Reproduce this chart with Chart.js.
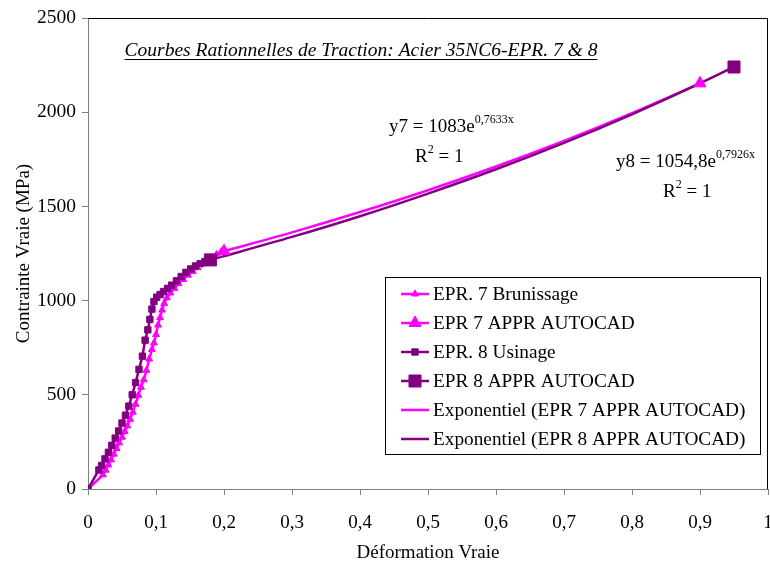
<!DOCTYPE html>
<html>
<head>
<meta charset="utf-8">
<script src="https://cdn.jsdelivr.net/npm/chart.js@4/dist/chart.umd.min.js"></script>
<style>
  html, body { margin: 0; padding: 0; background: #fff; }
  #wrap { width: 770px; height: 566px; }
</style>
</head>
<body>
<div id="wrap"><canvas id="c" width="770" height="566"></canvas></div>
<script>
// EPR. 7 Brunissage (true strain, true stress)
const eps7 = [0, 0.022, 0.026, 0.030, 0.034, 0.038, 0.042, 0.046, 0.050, 0.054, 0.058, 0.062, 0.066, 0.070,
  0.074, 0.078, 0.082, 0.086, 0.090, 0.094, 0.097, 0.100, 0.103, 0.106, 0.109, 0.112, 0.116, 0.121, 0.127,
  0.133, 0.140, 0.147, 0.154, 0.161, 0.168, 0.175, 0.182, 0.189, 0.196]
const sig7 = [0, 75, 100, 128, 155, 185, 215, 245, 275, 305, 335, 370, 408, 450,
  498, 540, 580, 630, 690, 740, 775, 820, 870, 910, 950, 985, 1015, 1040, 1065,
  1090, 1112, 1135, 1155, 1175, 1195, 1212, 1228, 1245, 1260]

// EPR. 8 Usinage
const eps8 = [0, 0.016, 0.020, 0.025, 0.030, 0.035, 0.040, 0.045, 0.050, 0.055, 0.060, 0.065, 0.070, 0.075,
  0.080, 0.084, 0.088, 0.091, 0.094, 0.097, 0.101, 0.106, 0.111, 0.117, 0.123, 0.130, 0.137, 0.144, 0.151,
  0.158, 0.165, 0.172, 0.178]
const sig8 = [0, 101, 125, 160, 195, 232, 270, 308, 350, 392, 440, 500, 565, 635,
  705, 790, 845, 900, 955, 995, 1018, 1032, 1048, 1065, 1082, 1105, 1128, 1150, 1168,
  1184, 1196, 1207, 1216]

// AUTOCAD approximation points
const eps7Cad = [0.2, 0.9]
const sig7Cad = [1262, 2153]
const eps8Cad = [0.18, 0.95]
const sig8Cad = [1216, 2240]

// exponential trend lines
const trend7X = [0.2, 0.3, 0.4, 0.5, 0.6, 0.7, 0.8, 0.9]
const trend7Y = [1262, 1362, 1470, 1586, 1712, 1848, 1995, 2153]
const trend8X = [0.18, 0.2, 0.3, 0.4, 0.5, 0.6, 0.7, 0.8, 0.9, 0.95]
const trend8Y = [1216, 1236, 1338, 1448, 1568, 1697, 1837, 1989, 2153, 2240]

const xTicks = [0, 0.1, 0.2, 0.3, 0.4, 0.5, 0.6, 0.7, 0.8, 0.9, 1]
const yTicks = [0, 500, 1000, 1500, 2000, 2500]

const chartTitle = 'Courbes Rationnelles de Traction: Acier 35NC6-EPR. 7 & 8'
const eq7 = ['y7 = 1083e', '0,7633x']
const eq8 = ['y8 = 1054,8e', '0,7926x']

const PINK = '#ff00ff'
const PURPLE = '#800080'
const FONT = '"Liberation Serif", "Times New Roman", serif'

const pts = (xs, ys) => xs.map((x, i) => ({ x, y: ys[i] }))

const frame = {
  id: 'frame',
  afterDraw(chart) {
    const { ctx, chartArea: a } = chart
    ctx.save()
    ctx.strokeStyle = '#000'
    ctx.lineWidth = 1
    ctx.beginPath()
    ctx.moveTo(a.left, a.top + 0.5)
    ctx.lineTo(a.right - 0.5, a.top + 0.5)
    ctx.lineTo(a.right - 0.5, a.bottom)
    ctx.stroke()
    ctx.restore()
  }
}

function supText(ctx, base, sup, x, y) {
  ctx.font = '19px ' + FONT
  ctx.fillText(base, x, y)
  const w = ctx.measureText(base).width
  ctx.font = '12px ' + FONT
  ctx.fillText(sup, x + w, y - 9)
}

const texts = {
  id: 'texts',
  afterDraw(chart) {
    const { ctx } = chart
    ctx.save()
    ctx.fillStyle = '#000'
    ctx.textBaseline = 'alphabetic'
    ctx.textAlign = 'left'

    // title, italic + underline
    ctx.font = 'italic 19.5px ' + FONT
    const tw = ctx.measureText(chartTitle).width
    const tx = 361 - tw / 2
    ctx.fillText(chartTitle, tx, 56)
    ctx.fillRect(tx, 59, tw, 1)

    // equations
    supText(ctx, eq7[0], eq7[1], 389, 132)
    supText(ctx, 'R', '2', 415, 162)
    ctx.font = '19px ' + FONT
    ctx.fillText(' = 1', 415 + ctx.measureText('R').width + 6, 162)

    supText(ctx, eq8[0], eq8[1], 616, 167)
    supText(ctx, 'R', '2', 663, 197)
    ctx.font = '19px ' + FONT
    ctx.fillText(' = 1', 663 + ctx.measureText('R').width + 6, 197)
    ctx.restore()
  }
}

const legendBox = {
  id: 'legendBox',
  afterDraw(chart) {
    const { ctx } = chart
    const sets = chart.data.datasets.slice().sort((a, b) => a.legendIndex - b.legendIndex)
    const bx = 385, by = 277, bw = 375, bh = 177, row = 29
    ctx.save()
    ctx.fillStyle = '#fff'
    ctx.fillRect(bx, by, bw, bh)
    ctx.strokeStyle = '#000'
    ctx.lineWidth = 1
    ctx.strokeRect(bx + 0.5, by + 0.5, bw, bh)
    sets.forEach((ds, i) => {
      const cy = by + 17 + i * row
      ctx.strokeStyle = ds.borderColor
      ctx.fillStyle = ds.backgroundColor
      ctx.lineWidth = 2.5
      ctx.beginPath()
      ctx.moveTo(401, cy)
      ctx.lineTo(429, cy)
      ctx.stroke()
      if (ds.pointRadius > 0) {
        ctx.lineWidth = 1
        Chart.helpers.drawPoint(ctx, {
          pointStyle: ds.pointStyle, radius: ds.pointRadius, rotation: 0, borderWidth: 1
        }, 415, cy)
      }
      ctx.fillStyle = '#000'
      ctx.font = '19.3px ' + FONT
      ctx.textBaseline = 'middle'
      ctx.fillText(ds.label, 433, cy + 1)
    })
    ctx.restore()
  }
}

new Chart(document.getElementById('c'), {
  type: 'scatter',
  data: {
    datasets: [
      {
        label: 'EPR. 7 Brunissage', legendIndex: 0, order: 4,
        data: pts(eps7, sig7), showLine: true,
        borderColor: PINK, backgroundColor: PINK, borderWidth: 2.5,
        pointStyle: 'triangle', pointRadius: 4, pointBorderWidth: 1
      },
      {
        label: 'EPR 7 APPR AUTOCAD', legendIndex: 1, order: 3,
        data: pts(eps7Cad, sig7Cad), showLine: false,
        borderColor: PINK, backgroundColor: PINK, borderWidth: 2.5,
        pointStyle: 'triangle', pointRadius: 7, pointBorderWidth: 1
      },
      {
        label: 'EPR. 8 Usinage', legendIndex: 2, order: 2,
        data: pts(eps8, sig8), showLine: true,
        borderColor: PURPLE, backgroundColor: PURPLE, borderWidth: 2.5,
        pointStyle: 'rect', pointRadius: 4.5, pointBorderWidth: 1
      },
      {
        label: 'EPR 8 APPR AUTOCAD', legendIndex: 3, order: 1,
        data: pts(eps8Cad, sig8Cad), showLine: false,
        borderColor: PURPLE, backgroundColor: PURPLE, borderWidth: 2.5,
        pointStyle: 'rect', pointRadius: 8.5, pointBorderWidth: 1
      },
      {
        label: 'Exponentiel (EPR 7 APPR AUTOCAD)', legendIndex: 4, order: 6,
        data: pts(trend7X, trend7Y), showLine: true, cubicInterpolationMode: 'monotone',
        borderColor: PINK, backgroundColor: PINK, borderWidth: 2.5, pointRadius: 0
      },
      {
        label: 'Exponentiel (EPR 8 APPR AUTOCAD)', legendIndex: 5, order: 5,
        data: pts(trend8X, trend8Y), showLine: true, cubicInterpolationMode: 'monotone',
        borderColor: PURPLE, backgroundColor: PURPLE, borderWidth: 2.5, pointRadius: 0
      }
    ]
  },
  options: {
    responsive: false,
    animation: false,
    layout: { autoPadding: false, padding: { top: 18, right: 2, left: 0, bottom: 0 } },
    plugins: {
      legend: { display: false },
      tooltip: { enabled: false }
    },
    scales: {
      x: {
        type: 'linear', min: 0, max: 1,
        afterFit: s => { s.height = 77; s.paddingLeft = 0; s.paddingRight = 0 },
        afterBuildTicks: s => { s.ticks = xTicks.map(v => ({ value: v })) },
        grid: { drawOnChartArea: false, drawTicks: true, tickLength: 6, color: '#808080' },
        border: { color: '#808080', width: 1 },
        ticks: {
          color: '#000', padding: 17, maxRotation: 0,
          font: { family: FONT, size: 19 },
          callback: v => String(Math.round(v * 10) / 10).replace('.', ',')
        },
        title: {
          display: true, text: 'Déformation Vraie', color: '#000',
          font: { family: FONT, size: 19 }, padding: { top: 0, bottom: 2 }
        }
      },
      y: {
        type: 'linear', min: 0, max: 2500,
        afterFit: s => { s.width = 88; s.paddingTop = 0; s.paddingBottom = 0 },
        afterBuildTicks: s => { s.ticks = yTicks.map(v => ({ value: v })) },
        grid: { drawOnChartArea: false, drawTicks: true, tickLength: 6, color: '#808080' },
        border: { color: '#808080', width: 1 },
        ticks: {
          color: '#000', padding: 6,
          font: { family: FONT, size: 19.5 },
          callback: v => String(v)
        },
        title: {
          display: true, text: 'Contrainte Vraie (MPa)', color: '#000',
          font: { family: FONT, size: 19 }, padding: { top: 13, bottom: 0 }
        }
      }
    }
  },
  plugins: [frame, texts, legendBox]
})
</script>
</body>
</html>
